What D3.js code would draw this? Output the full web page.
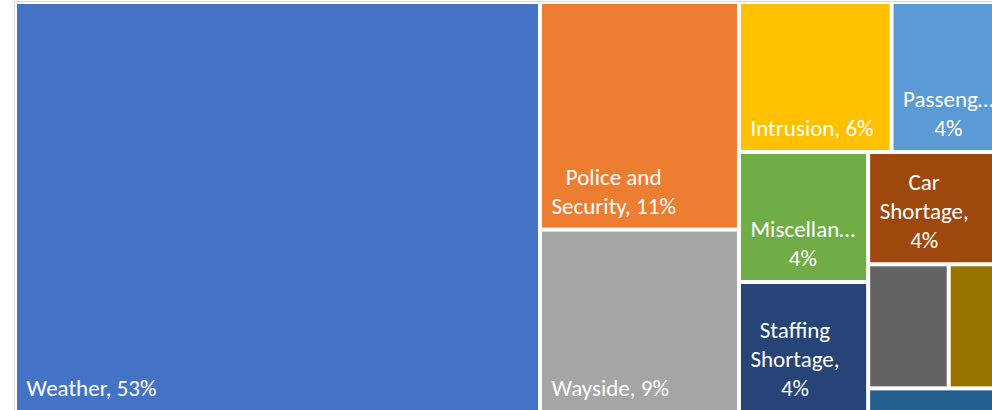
<!DOCTYPE html>
<html>
<head>
<meta charset="utf-8">
<script src="https://cdn.jsdelivr.net/npm/d3@7"></script>
<style>
  body { margin: 0; background: #fff; }
  svg { display: block; }
  text { font-family: Carlito, Lato, sans-serif; fill: #fff; }
</style>
</head>
<body>
<svg id="chart" width="992" height="410"></svg>
<script>
// delay causes, in the order the treemap lays them out
const causes = ["Weather", "Police and Security", "Wayside", "Intrusion", "Passenger",
  "Miscellaneous", "Staffing Shortage", "Car Shortage", "Equipment", "Signals", "Other"];
const delays = [2153, 453, 363, 229, 168, 168, 168, 152, 100, 68, 32];

const palette = ["#4472C4", "#ED7D31", "#A5A5A5", "#FFC000", "#5B9BD5", "#70AD47",
  "#264478", "#9E480E", "#636363", "#997300", "#255E91"];

// the plot runs a little past the right and bottom edge of the window
const LEFT = 15, TOP = 2, WIDTH = 988.5, HEIGHT = 410;
const GAP = 2, PAD = 9.5, LINE = 29, BOTTOM_PAD = 14;

var svg = d3.select("#chart");
var color = d3.scaleOrdinal().domain(causes).range(palette);

var root = d3.hierarchy({ children: causes.map((c, i) => ({ name: c, value: delays[i] })) })
  .sum(d => d.value || 0);

d3.treemap()
  .tile(d3.treemapSquarify.ratio(1.35))
  .size([WIDTH, HEIGHT])(root);

svg.append("rect")
  .attr("x", LEFT - 0.5).attr("y", TOP - 0.5)
  .attr("width", WIDTH + 20).attr("height", HEIGHT + 20)
  .attr("fill", "none").attr("stroke", "#d9d9d9");

var g = svg.append("g").attr("transform", `translate(${LEFT},${TOP})`);

// font size picked so the text is about as wide as in Excel
var probe = g.append("text").style("font-size", "100px").text("Weather, 53%");
var fontSize = 100 * 130 / probe.node().getComputedTextLength();
probe.style("font-size", fontSize + "px");

function measure(s) {
  probe.text(s);
  return probe.node().getComputedTextLength();
}

function wrap(words, maxW) {
  var lines = [], line = "";
  words.forEach(w => {
    if (!line) line = w;
    else if (measure(line + " " + w) <= maxW) line += " " + w;
    else { lines.push(line); line = w; }
  });
  if (line) lines.push(line);
  return lines.map(l => {
    if (measure(l) <= maxW) return l;
    // the ellipsis may hang a little into the right padding
    var s = l;
    while (s.length > 1 && measure(s + "…") > maxW + 6) s = s.slice(0, -1);
    return s + "…";
  });
}

var leaves = root.leaves();

g.selectAll("rect.cell")
  .data(leaves)
  .enter()
  .append("rect")
  .attr("class", "cell")
  .attr("x", d => d.x0 + GAP)
  .attr("y", d => d.y0 + GAP)
  .attr("width", d => d.x1 - d.x0 - 2 * GAP)
  .attr("height", d => d.y1 - d.y0 - 2 * GAP)
  .attr("fill", d => color(d.data.name));

leaves.forEach(d => {
  var w = d.x1 - d.x0 - 2 * GAP, h = d.y1 - d.y0 - 2 * GAP;
  var maxW = w - 2 * PAD;
  if (maxW < 80) return;
  var pct = Math.round(d.value / root.value * 100);
  var lines = wrap((d.data.name + ", " + pct + "%").split(" "), maxW);
  if (lines.length * LINE + 6 > h) return;
  var blockW = d3.max(lines, measure);
  var cx = d.x0 + GAP + PAD + blockW / 2;
  var base = d.y1 - GAP - BOTTOM_PAD;
  g.append("g").selectAll("text")
    .data(lines)
    .enter()
    .append("text")
    .attr("x", cx)
    .attr("y", (l, i) => base - (lines.length - 1 - i) * LINE)
    .attr("text-anchor", "middle")
    .style("font-size", fontSize + "px")
    .text(l => l);
});

probe.remove();
</script>
</body>
</html>
